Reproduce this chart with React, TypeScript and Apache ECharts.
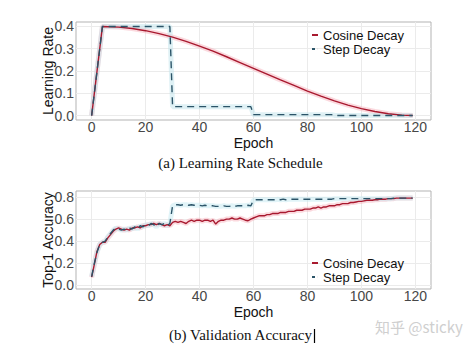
import React, { useEffect, useRef } from "react";
import * as echarts from "echarts";

// ---- Data ----
const lrEpochs = [0, 4, 10, 15, 20, 25, 30, 35, 40, 45, 50, 55, 60, 65, 70, 75, 80, 85, 90, 95, 100, 105, 110, 115, 119];
const cosineLR = [0, 0.4, 0.397, 0.391, 0.381, 0.368, 0.352, 0.333, 0.312, 0.289, 0.264, 0.238, 0.212, 0.186, 0.16, 0.135, 0.11, 0.087, 0.066, 0.047, 0.031, 0.018, 0.008, 0.002, 0];
const stepEpochs = [0, 4, 29, 30, 59, 60, 89, 90, 119];
const stepLR = [0, 0.4, 0.4, 0.04, 0.04, 0.004, 0.004, 0.0004, 0.0004];

const accEpochs = Array.from({ length: 120 }, (_, i) => i);
const cosineAcc = [
  0.075, 0.19, 0.31, 0.37, 0.39, 0.39, 0.43, 0.46, 0.49, 0.51,
  0.52, 0.51, 0.5, 0.51, 0.5, 0.52, 0.52, 0.53, 0.52, 0.54,
  0.54, 0.55, 0.55, 0.56, 0.55, 0.56, 0.55, 0.54, 0.55, 0.54,
  0.57, 0.58, 0.57, 0.58, 0.57, 0.56, 0.58, 0.59, 0.58, 0.59,
  0.59, 0.58, 0.59, 0.59, 0.58, 0.59, 0.555, 0.58, 0.59, 0.59,
  0.6, 0.6, 0.61, 0.6, 0.6, 0.61, 0.6, 0.59, 0.585, 0.6,
  0.61, 0.62, 0.63, 0.63, 0.63, 0.64, 0.64, 0.65, 0.65, 0.65,
  0.66, 0.66, 0.66, 0.67, 0.67, 0.67, 0.68, 0.68, 0.68, 0.69,
  0.69, 0.69, 0.7, 0.7, 0.71, 0.7, 0.71, 0.71, 0.72, 0.72,
  0.72, 0.73, 0.73, 0.74, 0.74, 0.74, 0.75, 0.75, 0.755, 0.76,
  0.76, 0.765, 0.77, 0.77, 0.77, 0.775, 0.775, 0.78, 0.78, 0.78,
  0.785, 0.785, 0.785, 0.79, 0.79, 0.79, 0.79, 0.79, 0.79, 0.79,
];
const stepAcc = [
  0.08, 0.2, 0.3, 0.37, 0.39, 0.4, 0.44, 0.47, 0.5, 0.52,
  0.51, 0.5, 0.51, 0.5, 0.52, 0.51, 0.53, 0.51, 0.54, 0.53,
  0.55, 0.54, 0.56, 0.55, 0.53, 0.56, 0.55, 0.56, 0.54, 0.56,
  0.72, 0.73, 0.73, 0.725, 0.73, 0.73, 0.725, 0.73, 0.725, 0.725,
  0.725, 0.72, 0.725, 0.72, 0.72, 0.72, 0.715, 0.715, 0.715, 0.72,
  0.715, 0.715, 0.72, 0.715, 0.72, 0.72, 0.72, 0.72, 0.725, 0.72,
  0.77, 0.775, 0.775, 0.775, 0.775, 0.775, 0.775, 0.775, 0.775, 0.78,
  0.775, 0.78, 0.775, 0.78, 0.78, 0.78, 0.78, 0.78, 0.78, 0.78,
  0.78, 0.78, 0.78, 0.78, 0.78, 0.78, 0.78, 0.78, 0.78, 0.78,
  0.785, 0.785, 0.785, 0.785, 0.785, 0.785, 0.785, 0.785, 0.785, 0.785,
  0.785, 0.785, 0.785, 0.785, 0.785, 0.785, 0.785, 0.785, 0.785, 0.785,
  0.785, 0.785, 0.79, 0.79, 0.79, 0.79, 0.79, 0.79, 0.79, 0.79,
];

const xTicks = [0, 20, 40, 60, 80, 100, 120];
const lrTicks = [0, 0.1, 0.2, 0.3, 0.4];
const accTicks = [0, 0.2, 0.4, 0.6, 0.8];

const seriesNames = ["Cosine Decay", "Step Decay"];

const FONT = "'Liberation Sans', Arial, sans-serif";
const SERIF = "'Liberation Serif', 'Times New Roman', serif";
const RED = "#a8192f";
const TEAL = "#2b5468";

const zip = (xs: number[], ys: number[]) => xs.map((x, i) => [x, ys[i]]);

function makeX(gridIndex: number, nameGap: number) {
  return {
    type: "value",
    gridIndex,
    min: -5.8,
    max: 125.8,
    name: "Epoch",
    nameLocation: "middle",
    nameGap,
    nameMoveOverlap: false,
    nameTextStyle: { fontSize: 14, color: "#111", fontFamily: FONT, lineHeight: 10 },
    axisLine: { show: false },
    axisTick: { show: false, customValues: xTicks },
    axisLabel: { customValues: xTicks, margin: 1.5, fontSize: 14, lineHeight: 10, color: "#474747", fontFamily: FONT },
    splitLine: { show: true, lineStyle: { color: "#ebebeb", width: 1 } },
  };
}

function makeY(gridIndex: number, name: string, min: number, max: number, ticks: number[], nameGap: number) {
  return {
    type: "value",
    gridIndex,
    min,
    max,
    name,
    nameLocation: "middle",
    nameGap,
    nameMoveOverlap: false,
    nameTextStyle: { fontSize: 14, color: "#111", fontFamily: FONT },
    axisLine: { show: false },
    axisTick: { show: false, customValues: ticks },
    axisLabel: {
      customValues: ticks,
      margin: 2,
      fontSize: 14,
      color: "#474747",
      fontFamily: FONT,
      formatter: (v: number) => v.toFixed(1),
    },
    splitLine: { show: true, lineStyle: { color: "#ebebeb", width: 1 } },
  };
}

function band(idx: number, data: number[][], color: string) {
  return {
    type: "line",
    name: "band" + idx + color,
    xAxisIndex: idx,
    yAxisIndex: idx,
    data,
    showSymbol: false,
    silent: true,
    z: 1,
    lineStyle: { color, width: 5, opacity: 0.5 },
  };
}

function line(idx: number, name: string, data: number[][], color: string, dashed: boolean) {
  return {
    type: "line",
    name,
    xAxisIndex: idx,
    yAxisIndex: idx,
    data,
    showSymbol: false,
    z: 3,
    itemStyle: { color },
    lineStyle: { color, width: 1.4, type: dashed ? [7, 5] : "solid" },
  };
}

function legend(top: number) {
  return {
    orient: "vertical",
    left: 312,
    top,
    padding: 0,
    itemGap: 0,
    itemWidth: 6,
    itemHeight: 2,
    symbolKeepAspect: false,
    selectedMode: false,
    textStyle: { fontSize: 13, color: "#111", fontFamily: FONT, lineHeight: 14 },
    data: [
      { name: seriesNames[0], icon: "rect" },
      { name: seriesNames[1], icon: "path://M0,0H5V1H0Z M9.9,0H10V1H9.9Z" },
    ],
  };
}

export default function App() {
  const ref = useRef<HTMLDivElement>(null);
  useEffect(() => {
    if (!ref.current) return;
    const chart = echarts.init(ref.current, null, { renderer: "svg" });
    const cosLRData = zip(lrEpochs, cosineLR);
    const stepLRData = zip(stepEpochs, stepLR);
    const cosAccData = zip(accEpochs, cosineAcc);
    const stepAccData = zip(accEpochs, stepAcc);
    chart.setOption({
      animation: false,
      backgroundColor: "#fff",
      grid: [
        { left: 76, top: 22, width: 355, height: 98, show: true, borderColor: "#b3b3b3", borderWidth: 1, backgroundColor: "#fff" },
        { left: 76, top: 191, width: 355, height: 98, show: true, borderColor: "#b3b3b3", borderWidth: 1, backgroundColor: "#fff" },
      ],
      xAxis: [makeX(0, 17.5), makeX(1, 17.5)],
      yAxis: [
        makeY(0, "Learning Rate", -0.02, 0.42, lrTicks, 21),
        makeY(1, "Top-1 Accuracy", -0.032, 0.854, accTicks, 21),
      ],
      legend: [legend(28), legend(256)],
      series: [
        band(0, cosLRData, "#f7b3bd"),
        band(0, stepLRData, "#bfe3ec"),
        line(0, seriesNames[0], cosLRData, RED, false),
        line(0, seriesNames[1], stepLRData, TEAL, true),
        band(1, cosAccData, "#f7b3bd"),
        band(1, stepAccData, "#c4eaf2"),
        line(1, seriesNames[0], cosAccData, RED, false),
        line(1, seriesNames[1], stepAccData, TEAL, true),
      ],
      graphic: [
        {
          type: "text",
          x: 240.5,
          y: 163,
          style: { text: "(a) Learning Rate Schedule", font: `15px ${SERIF}`, fill: "#111", align: "center", verticalAlign: "middle" },
        },
        {
          type: "text",
          x: 240.5,
          y: 335,
          style: { text: "(b) Validation Accuracy", font: `15px ${SERIF}`, fill: "#111", align: "center", verticalAlign: "middle" },
        },
        {
          type: "line",
          shape: { x1: 314.5, y1: 329, x2: 314.5, y2: 343 },
          style: { stroke: "#000", lineWidth: 1.2 },
        },
        {
          type: "text",
          x: 375,
          y: 326,
          style: { text: "知乎 @sticky", font: `15px 'Noto Sans CJK SC', sans-serif`, fill: "#cfcfcf", align: "left", verticalAlign: "middle" },
        },
      ],
    });
    return () => chart.dispose();
  }, []);
  return (
    <div
      ref={ref}
      style={{ position: "fixed", left: 0, top: 0, width: 473, height: 350, background: "#fff" }}
    />
  );
}
